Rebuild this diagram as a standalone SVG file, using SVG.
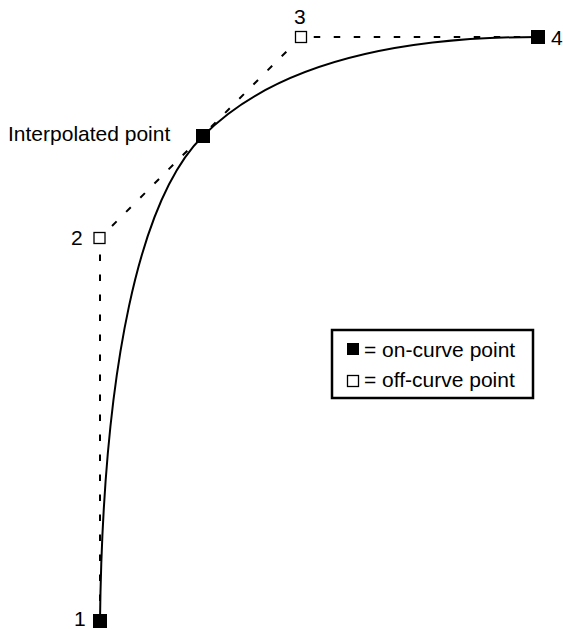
<svg xmlns="http://www.w3.org/2000/svg" width="563" height="629" viewBox="0 0 563 629">
<style>
.t{font-family:"Liberation Sans",Arial,Helvetica,sans-serif;font-size:21px;fill:#000}
.dash{fill:none;stroke:#000;stroke-width:2;stroke-dasharray:6.5,13.5}
.curve{fill:none;stroke:#000;stroke-width:2}
.on{fill:#000;stroke:none}
.off{fill:#fff;stroke:#000;stroke-width:1.3}
</style>
<rect width="563" height="629" fill="#fff"/>
<g id="connectors">
<path class="dash" d="M100,621 L100,238 L301,37 L538,37"/>
<path class="curve" d="M100,621 C103,366 140,198 203,136 Q301,37 538,37"/>
</g>
<g id="p1"><rect class="on" x="93" y="614" width="14" height="14"/><text class="t" x="74" y="626">1</text></g>
<g id="p2"><rect class="off" x="94" y="232.5" width="11" height="11"/><text class="t" x="71" y="245">2</text></g>
<g id="p3"><rect class="off" x="295.5" y="31.5" width="11" height="11"/><text class="t" x="294" y="24">3</text></g>
<g id="p4"><rect class="on" x="531" y="30" width="14" height="14"/><text class="t" x="551" y="45">4</text></g>
<g id="interp"><rect class="on" x="196" y="129" width="14" height="14"/><text class="t" x="8" y="141">Interpolated point</text></g>
<g id="legend">
<rect x="332" y="330" width="201" height="68" fill="#fff" stroke="#000" stroke-width="2.5"/>
<rect class="on" x="347" y="343" width="12" height="12"/>
<text class="t" x="364" y="357">= on-curve point</text>
<rect class="off" x="347.5" y="375.5" width="11" height="11"/>
<text class="t" x="364" y="387">= off-curve point</text>
</g>
</svg>
